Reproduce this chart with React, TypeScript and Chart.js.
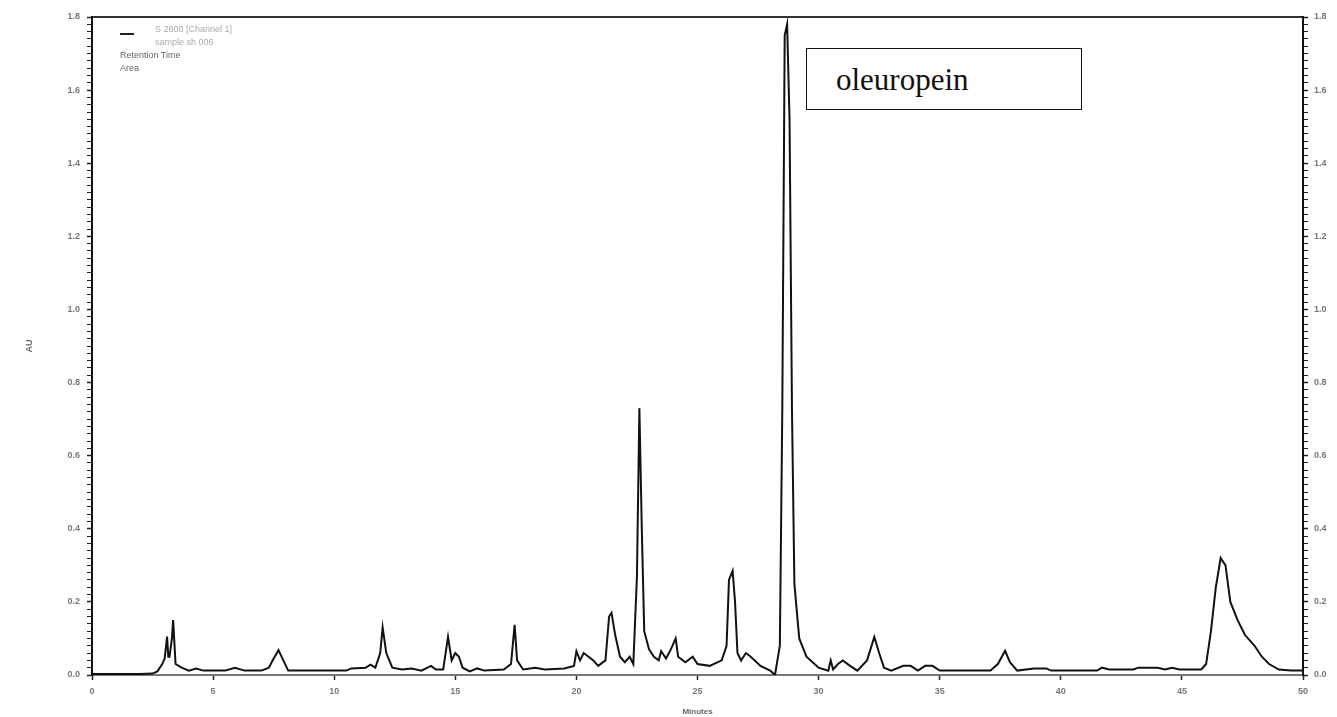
import React, { useEffect, useRef } from "react";
import { Chart, registerables } from "chart.js";

Chart.register(...registerables);

// Retention time (minutes)
const retentionTime: number[] = [
  0, 1.0, 2.0, 2.5, 2.7, 2.9, 3.0, 3.1, 3.15, 3.2, 3.3, 3.35, 3.45, 3.7, 4.0, 4.3, 4.6, 5.5, 5.9, 6.3,
  7.0, 7.3, 7.5, 7.7, 7.9, 8.1, 10.5, 10.7, 11.3, 11.5, 11.7, 11.9, 12.0, 12.15, 12.4, 12.8, 13.2, 13.6, 14.0, 14.2,
  14.5, 14.6, 14.7, 14.85, 15.0, 15.15, 15.3, 15.6, 15.9, 16.2, 17.0, 17.3, 17.45, 17.55, 17.8, 18.3, 18.7, 19.5, 19.9, 20.0,
  20.15, 20.3, 20.5, 20.7, 20.9, 21.2, 21.35, 21.45, 21.6, 21.8, 22.0, 22.2, 22.35, 22.5, 22.6, 22.7, 22.8, 23.0, 23.2, 23.4,
  23.5, 23.7, 23.9, 24.0, 24.1, 24.2, 24.5, 24.8, 25.0, 25.5, 26.0, 26.2, 26.3, 26.45, 26.55, 26.65, 26.8, 27.0, 27.2, 27.6,
  28.0, 28.2, 28.4, 28.5, 28.6, 28.7, 28.8, 28.9, 29.0, 29.2, 29.5, 30.0, 30.4, 30.5, 30.6, 30.8, 31.0, 31.3, 31.6, 32.0,
  32.3, 32.5, 32.7, 33.0, 33.5, 33.8, 34.1, 34.4, 34.7, 35.0, 37.1, 37.4, 37.7, 37.9, 38.2, 38.9, 39.4, 39.6, 41.5, 41.7,
  42.0, 43.0, 43.2, 44.0, 44.3, 44.6, 44.9, 45.8, 46.0, 46.2, 46.4, 46.6, 46.8, 47.0, 47.3, 47.6, 48.0, 48.3, 48.6, 49.0,
  49.5, 50.0,
];

// Absorbance (AU)
const absorbance: number[] = [
  0.003, 0.003, 0.003, 0.004, 0.01, 0.03, 0.045, 0.105, 0.05, 0.05, 0.1, 0.15, 0.03, 0.02, 0.012, 0.018, 0.012, 0.012, 0.02, 0.012,
  0.012, 0.02, 0.045, 0.068, 0.04, 0.012, 0.012, 0.018, 0.02, 0.028, 0.02, 0.06, 0.13, 0.06, 0.02, 0.015, 0.018, 0.012, 0.025, 0.015,
  0.015, 0.06, 0.104, 0.04, 0.06, 0.05, 0.02, 0.01, 0.018, 0.012, 0.015, 0.03, 0.137, 0.04, 0.015, 0.02, 0.015, 0.018, 0.025, 0.065,
  0.04, 0.06, 0.05, 0.04, 0.025, 0.04, 0.16, 0.17, 0.11, 0.05, 0.035, 0.05, 0.03, 0.27, 0.73, 0.4, 0.12, 0.07, 0.05, 0.04,
  0.065, 0.045, 0.07, 0.085, 0.1, 0.05, 0.035, 0.05, 0.03, 0.025, 0.04, 0.08, 0.26, 0.285, 0.2, 0.06, 0.04, 0.06, 0.05, 0.025,
  0.012, 0.0, 0.08, 0.72, 1.75, 1.78, 1.52, 0.73, 0.25, 0.1, 0.05, 0.02, 0.012, 0.04, 0.015, 0.03, 0.04, 0.025, 0.012, 0.04,
  0.104, 0.06, 0.02, 0.012, 0.025, 0.025, 0.012, 0.025, 0.025, 0.012, 0.012, 0.03, 0.066, 0.035, 0.012, 0.018, 0.018, 0.012, 0.012, 0.02,
  0.015, 0.015, 0.02, 0.02, 0.015, 0.02, 0.015, 0.015, 0.03, 0.12, 0.24, 0.32, 0.3, 0.2, 0.15, 0.11, 0.08, 0.05, 0.03, 0.015,
  0.012, 0.012,
];

const legendLines: string[] = ["S 2800 [Channel 1]", "sample sh 006"];
const legendExtras: string[] = ["Retention Time", "Area"];
const peakLabel = "oleuropein";
const xTitle = "Minutes";
const yTitle = "AU";

const tickFont = { family: "Liberation Sans", size: 9, weight: "bold" as const };

const isMajor = (v: number, step: number) => Math.abs(v / step - Math.round(v / step)) < 1e-6;

export default function App() {
  const ref = useRef<HTMLCanvasElement | null>(null);

  useEffect(() => {
    if (!ref.current) return;
    const data = retentionTime.map((t, i) => ({ x: t, y: absorbance[i] }));
    const yTicks = (pad: number) => ({
      stepSize: 0.02,
      maxTicksLimit: 200,
      autoSkip: false,
      color: "#777",
      font: tickFont,
      padding: pad,
      callback: (v: any) => (isMajor(Number(v), 0.2) ? Number(v).toFixed(1) : ""),
    });
    const yGrid = {
      drawOnChartArea: false,
      tickLength: 5,
      tickColor: "#222",
      tickWidth: (c: any) => (isMajor(c.tick?.value ?? 0, 0.2) ? 1.5 : 1),
    };
    const chart = new Chart(ref.current, {
      type: "line",
      data: {
        datasets: [
          {
            data,
            borderColor: "#111",
            borderWidth: 2,
            pointRadius: 0,
            tension: 0,
            fill: false,
          },
        ],
      },
      options: {
        animation: false,
        responsive: true,
        maintainAspectRatio: false,
        layout: { padding: { top: 17, left: 0, right: 0, bottom: 0 } },
        plugins: { legend: { display: false }, tooltip: { enabled: false } },
        scales: {
          x: {
            type: "linear",
            position: "bottom",
            min: 0,
            max: 50,
            afterFit: (s: any) => {
              s.height = 42;
            },
            ticks: {
              stepSize: 1,
              autoSkip: false,
              maxRotation: 0,
              color: "#777",
              font: tickFont,
              padding: 6,
              callback: (v: any) => (isMajor(Number(v), 5) ? String(v) : ""),
            },
            grid: {
              drawOnChartArea: false,
              tickLength: 5,
              tickColor: (c: any) => (isMajor(c.tick?.value ?? 0, 5) ? "#222" : "rgba(0,0,0,0)"),
              tickWidth: 1.5,
            },
            border: { display: true, color: "#777", width: 2, dash: [12, 3] },
            title: { display: true, text: xTitle, color: "#666", font: { family: "Liberation Sans", size: 8, weight: "bold" }, padding: { top: 0, bottom: 0 } },
          },
          xTop: {
            type: "linear",
            position: "top",
            min: 0,
            max: 50,
            afterFit: (s: any) => {
              s.height = 0;
            },
            ticks: { display: false },
            grid: { display: false },
            border: { display: true, color: "#333", width: 2 },
          },
          y: {
            position: "left",
            min: 0,
            max: 1.8,
            afterFit: (s: any) => {
              s.width = 92;
            },
            ticks: yTicks(7),
            grid: yGrid,
            border: { display: true, color: "#111", width: 2 },
            title: { display: true, text: yTitle, color: "#666", font: { family: "Liberation Sans", size: 9, weight: "bold" }, padding: { top: 24, bottom: 0 } },
          },
          y2: {
            position: "right",
            min: 0,
            max: 1.8,
            afterFit: (s: any) => {
              s.width = 34;
            },
            ticks: yTicks(6),
            grid: yGrid,
            border: { display: true, color: "#111", width: 2 },
          },
        },
      },
    });
    return () => chart.destroy();
  }, []);

  return (
    <div style={{ position: "absolute", left: 0, top: 0, width: 1337, height: 717, background: "#fff" }}>
      <canvas ref={ref} />
      <div style={{ position: "absolute", left: 120, top: 33, width: 14, height: 2, background: "#222" }} />
      {legendLines.map((t, i) => (
        <div key={t} style={{ position: "absolute", left: 155, top: 24 + i * 13, fontFamily: "Liberation Sans", fontSize: 9, color: "#aaa", whiteSpace: "nowrap" }}>
          {t}
        </div>
      ))}
      {legendExtras.map((t, i) => (
        <div key={t} style={{ position: "absolute", left: 120, top: 50 + i * 13, fontFamily: "Liberation Sans", fontSize: 9, color: "#666", whiteSpace: "nowrap" }}>
          {t}
        </div>
      ))}
      <div
        style={{
          position: "absolute",
          left: 806,
          top: 48,
          width: 276,
          height: 62,
          boxSizing: "border-box",
          border: "1.5px solid #111",
          background: "#fff",
          fontFamily: "Liberation Serif",
          fontSize: 31,
          color: "#111",
          paddingLeft: 29,
          lineHeight: "62px",
        }}
      >
        {peakLabel}
      </div>
    </div>
  );
}
